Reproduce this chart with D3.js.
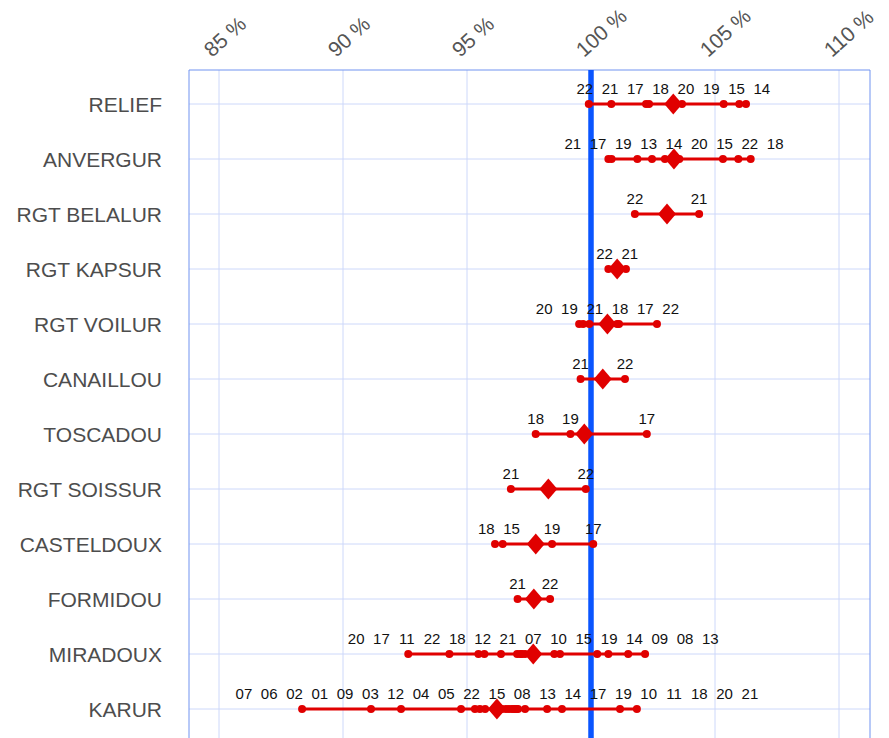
<!DOCTYPE html>
<html>
<head>
  <title>Ratios by site</title>
  <script src='https://d3js.org/d3.v7.min.js'></script>
  <style>
    body { margin: 0; background: #fff; }
    text { font-family: 'Liberation Sans', Arial, sans-serif; }
  </style>
</head>
<body>
  <script>

    // categories top to bottom
    var categories = ['RELIEF', 'ANVERGUR', 'RGT BELALUR', 'RGT KAPSUR', 'RGT VOILUR', 'CANAILLOU',
                      'TOSCADOU', 'RGT SOISSUR', 'CASTELDOUX', 'FORMIDOU', 'MIRADOUX', 'KARUR'];

    // year labels, one list per category (same order as values)
    var seriesYears = [
      ['22', '21', '17', '18', '20', '19', '15', '14'],
      ['21', '17', '19', '13', '14', '20', '15', '22', '18'],
      ['22', '21'],
      ['22', '21'],
      ['20', '19', '21', '18', '17', '22'],
      ['21', '22'],
      ['18', '19', '17'],
      ['21', '22'],
      ['18', '15', '19', '17'],
      ['21', '22'],
      ['20', '17', '11', '22', '18', '12', '21', '07', '10', '15', '19', '14', '09', '08', '13'],
      ['07', '06', '02', '01', '09', '03', '12', '04', '05', '22', '15', '08', '13', '14', '17', '19', '10', '11', '18', '20', '21']
    ];

    // values in %
    var seriesValues = [
      [99.91, 100.82, 102.22, 102.34, 103.67, 105.35, 105.98, 106.25],
      [100.70, 100.83, 101.87, 102.46, 102.98, 103.56, 105.32, 105.94, 106.44],
      [101.77, 104.36],
      [100.70, 101.41],
      [99.52, 99.68, 99.93, 101.05, 101.13, 102.66],
      [99.58, 101.37],
      [97.77, 99.17, 102.25],
      [96.77, 99.79],
      [96.13, 96.44, 98.43, 100.09],
      [97.04, 98.35],
      [92.63, 94.29, 95.46, 95.70, 96.37, 97.02, 97.14, 97.22, 97.34, 98.52, 98.75, 100.25, 100.70, 101.50, 102.18],
      [88.35, 91.13, 92.34, 94.76, 95.32, 95.52, 95.73, 96.09, 96.25, 96.41, 96.57, 96.69, 96.81, 96.90, 96.98,
       97.06, 97.34, 98.23, 98.83, 101.17, 101.85]
    ];

    var tickValues = [85, 90, 95, 100, 105, 110];
    var reference = 100;

    var width = 889;
    var height = 738;
    // careful: "top" is taken by window.top
    var plotLeft = 189, plotRight = 870, plotTop = 70;

    var red = '#e00000';

    var svg = d3.select('body')
          .append('svg')
          .attr('width', width)
          .attr('height', height);

    var x = d3.scaleLinear()
          .domain([83.79, 111.25])
          .range([plotLeft, plotRight]);

    var y = d3.scalePoint()
          .domain(categories)
          .range([104, 709]);

    // grid
    var grid = svg.append('g');
    grid.selectAll('line.v')
        .data(tickValues)
        .enter()
        .append('line')
        .attr('x1', d => x(d)).attr('x2', d => x(d))
        .attr('y1', plotTop).attr('y2', height)
        .attr('stroke', '#cdd8fa');
    grid.selectAll('line.h')
        .data(categories)
        .enter()
        .append('line')
        .attr('x1', plotLeft).attr('x2', plotRight)
        .attr('y1', d => y(d)).attr('y2', d => y(d))
        .attr('stroke', '#cdd8fa');

    // frame
    svg.append('path')
        .attr('d', 'M' + plotLeft + ',' + (height + 5) + 'V' + plotTop + 'H' + plotRight + 'V' + (height + 5))
        .attr('fill', 'none')
        .attr('stroke', '#7093f0')
        .attr('stroke-width', 1);

    // 100 % line
    svg.append('line')
        .attr('x1', x(reference)).attr('x2', x(reference))
        .attr('y1', plotTop).attr('y2', height)
        .attr('stroke', '#0a55ff')
        .attr('stroke-width', 5.5);

    // tick labels, rotated
    svg.selectAll('text.tick')
        .data(tickValues)
        .enter()
        .append('text')
        .attr('transform', d => 'translate(' + (x(d) - 7) + ',58) rotate(-42)')
        .attr('font-size', 21)
        .attr('fill', '#555')
        .text(d => d + ' %');

    // category labels
    svg.selectAll('text.cat')
        .data(categories)
        .enter()
        .append('text')
        .attr('x', 162)
        .attr('y', d => y(d))
        .attr('dy', '0.36em')
        .attr('text-anchor', 'end')
        .attr('font-size', 21)
        .attr('fill', '#4d4d4d')
        .text(d => d);

    // spread labels apart: overlapping ones are merged into evenly spaced blocks
    function dodge(xs, gap) {
      var clusters = [];
      xs.forEach(function (px, i) {
        clusters.push({ sum: px, n: 1, idx: [i], start: px });
        while (clusters.length > 1) {
          var b = clusters[clusters.length - 1];
          var a = clusters[clusters.length - 2];
          if (a.start + a.n * gap > b.start) {
            a.sum += b.sum;
            a.n += b.n;
            a.idx = a.idx.concat(b.idx);
            a.start = a.sum / a.n - (a.n - 1) * gap / 2;
            clusters.pop();
          } else break;
        }
      });
      var out = [];
      clusters.forEach(function (c) {
        c.idx.forEach(function (i, k) { out[i] = c.start + k * gap; });
      });
      return out;
    }

    var rows = svg.append('g');
    categories.forEach(function (cat, ci) {
      var pts = seriesValues[ci].map(function (v, i) { return { v: v, year: seriesYears[ci][i] }; });
      pts.sort(function (a, b) { return a.v - b.v; });
      var cy = y(cat);
      var g = rows.append('g');

      g.append('line')
        .attr('x1', x(d3.min(pts, d => d.v)))
        .attr('x2', x(d3.max(pts, d => d.v)))
        .attr('y1', cy).attr('y2', cy)
        .attr('stroke', red)
        .attr('stroke-width', 2.8);

      g.selectAll('circle')
        .data(pts)
        .enter()
        .append('circle')
        .attr('cx', d => x(d.v))
        .attr('cy', cy)
        .attr('r', 4)
        .attr('fill', red);

      var m = x(d3.mean(pts, d => d.v));
      g.append('path')
        .attr('d', 'M' + m + ',' + (cy - 10.5) + 'L' + (m + 9) + ',' + cy + 'L' + m + ',' + (cy + 10.5) + 'L' + (m - 9) + ',' + cy + 'Z')
        .attr('fill', red);

      var lx = dodge(pts.map(d => x(d.v)), 25.3);
      g.selectAll('text')
        .data(pts)
        .enter()
        .append('text')
        .attr('x', (d, i) => lx[i])
        .attr('y', cy - 10)
        .attr('text-anchor', 'middle')
        .attr('font-size', 15)
        .attr('fill', '#111')
        .text(d => d.year);
    });

  </script>
</body>
</html>
